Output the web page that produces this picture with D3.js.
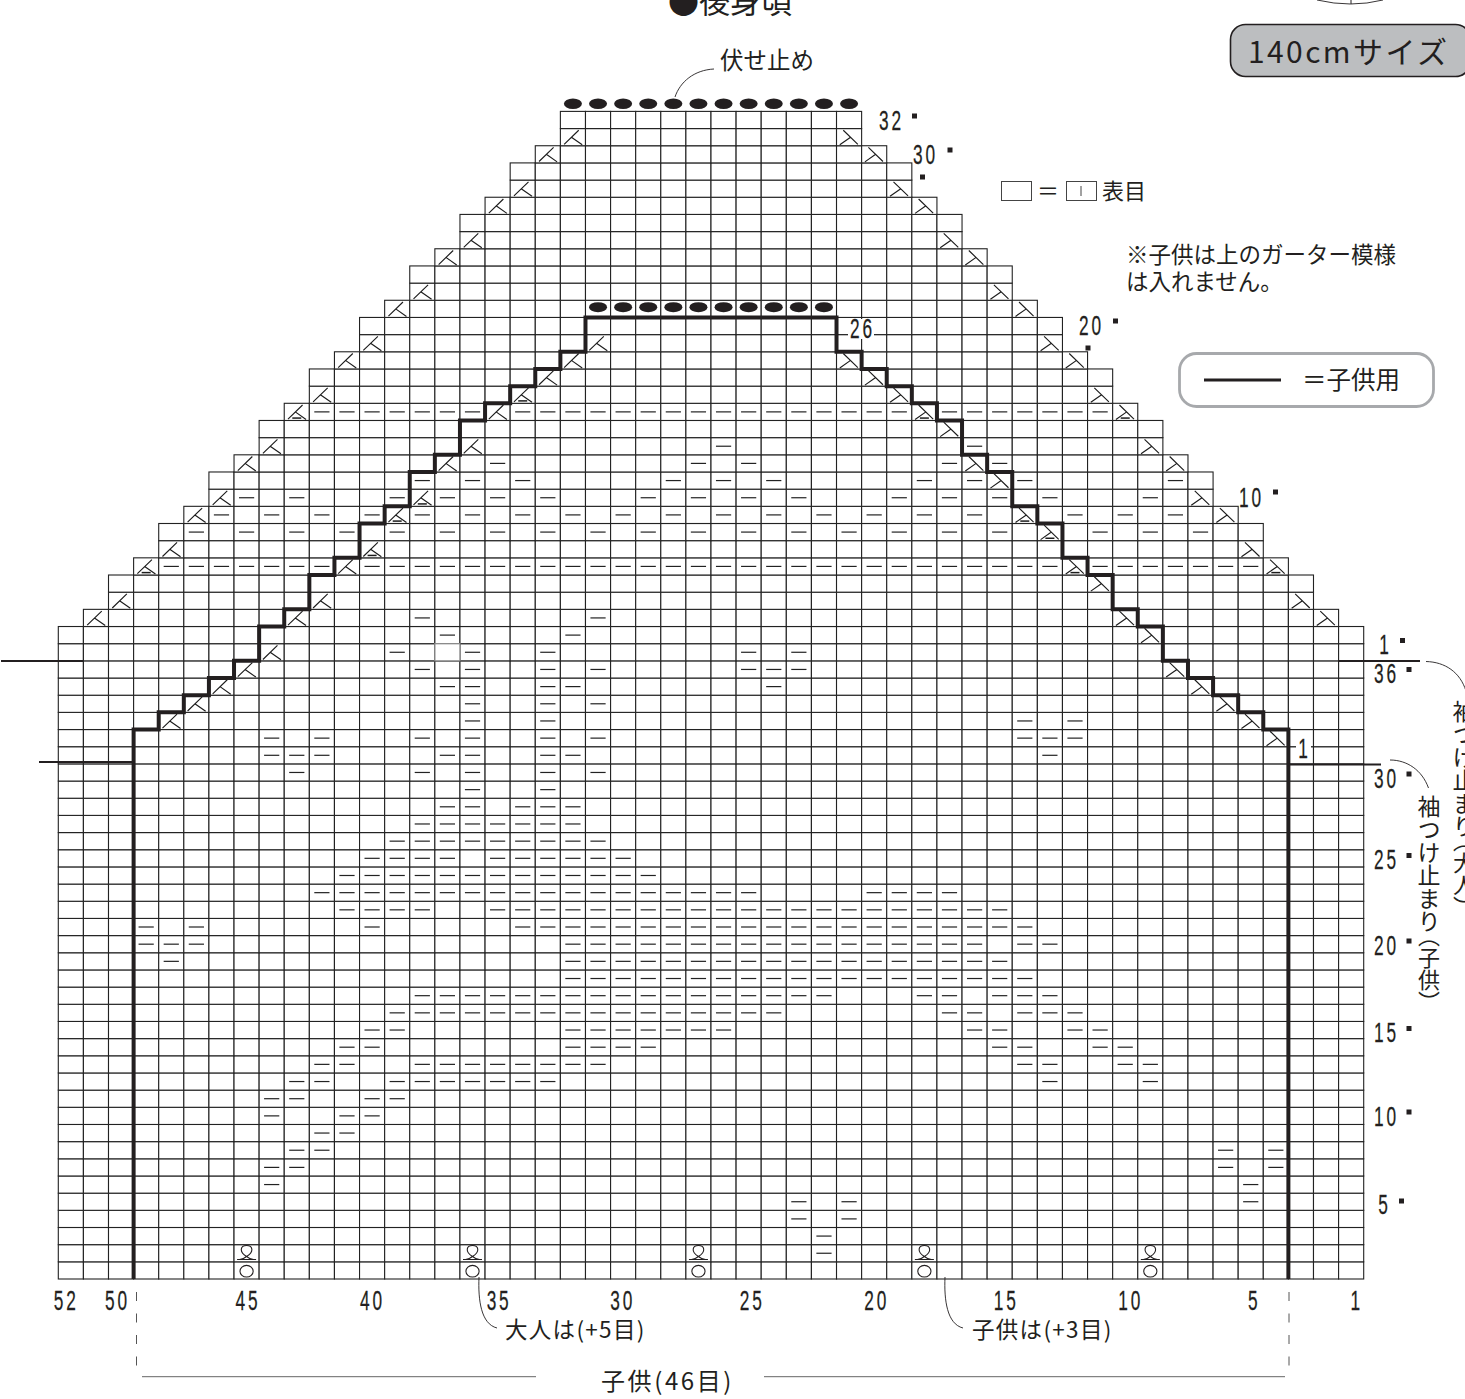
<!DOCTYPE html>
<html><head><meta charset="utf-8">
<script src="https://cdn.jsdelivr.net/npm/d3@7"></script>
<style>html,body{margin:0;padding:0;background:#fff;overflow:hidden}svg{display:block}</style>
</head><body><div id="c"></div>
<script>
// ---- chart data ----
const TOTAL_COLS = 52, TOTAL_ROWS = 68;
// first (left-most) stitch of each row, rows counted from the cast-on edge
const rowLeft = [0,0,0,0,0,0,0,0,0,0,0,0,0,0,0,0,0,0,0,0,0,0,0,0,0,0,0,0,0,0,0,0,0,0,0,0,0,0,
  1,2,2,3,4,4,5,6,6,7,8,8,9,10,10,11,12,12,13,14,14,15,16,16,17,18,18,19,20,20];
// purl marks: [row, first col, last col]
const purlRuns = [
 [1,30,30],[2,30,30],[3,29,29],[3,31,31],[4,29,29],[4,31,31],[4,47,47],[5,8,8],[5,47,47],
 [6,8,9],[6,46,46],[6,48,48],[7,9,10],[7,46,46],[7,48,48],[8,10,11],[9,8,8],[9,11,12],
 [10,8,9],[10,12,13],[11,9,10],[11,13,19],[11,39,39],[11,43,43],[12,10,11],[12,14,21],[12,38,39],[12,42,43],
 [13,11,12],[13,20,23],[13,37,38],[13,41,42],[14,12,13],[14,20,26],[14,36,37],[14,40,41],
 [15,13,28],[15,35,36],[15,38,40],[16,14,30],[16,34,35],[16,37,39],[17,20,38],[18,4,4],[18,20,37],
 [19,3,5],[19,20,36],[19,38,39],[20,3,3],[20,5,5],[20,12,12],[20,18,38],[21,11,14],[21,17,37],
 [22,10,27],[22,32,35],[23,11,23],[24,12,15],[24,17,22],[25,13,21],[26,14,20],[27,15,16],[27,18,20],
 [28,16,16],[28,19,19],[29,9,9],[29,14,14],[29,16,16],[29,19,19],[29,21,21],
 [30,8,10],[30,15,16],[30,19,20],[30,39,39],[31,8,8],[31,10,10],[31,14,14],[31,16,16],[31,19,19],[31,21,21],[31,38,40],
 [32,16,16],[32,19,19],[32,38,38],[32,40,40],[33,16,16],[33,19,19],[33,21,21],[34,15,16],[34,19,20],[34,28,28],
 [35,14,14],[35,16,16],[35,19,19],[35,21,21],[35,27,29],[36,13,13],[36,16,16],[36,19,19],[36,27,27],[36,29,29],
 [37,15,15],[37,20,20],[38,14,14],[38,21,21],
 [41,4,10],[41,12,39],[41,41,47],[50,10,16],[50,18,33],[50,35,41]
];
// rows with scattered single purl marks: [row, columns]
const purlSingles = [
 [43,[5,7,9,11,13,15,17,19,21,23,25,27,29,31,33,35,37,41,43,45]],
 [44,[6,8,10,12,14,16,18,20,22,24,26,28,30,32,34,36,40,42,44]],
 [45,[7,9,13,15,17,19,23,25,27,29,33,35,37,39,43]],
 [46,[14,16,18,24,26,28,34,36,38,44]],
 [47,[17,25,27,35,37]],
 [48,[26,36]]
];
// decreases: [col, row, has bar]
const decLeft = [[20,66],[19,65],[18,63],[17,62],[16,60],[15,59],[14,57],[13,56],[12,54],[11,53],[10,51],[9,50,1],[8,48],[7,47],[6,45],[5,44],[4,42],[3,41,1],[2,39],[1,38],
 [4,32],[5,33],[6,34],[7,35],[8,36],[9,38],[10,39],[11,41],[12,42,1],[13,44,1],[14,45,1],[15,47],[16,48],[17,50],[18,51,1],[19,52],[20,53],[21,54]];
const decRight = [[31,66],[32,65],[33,63],[34,62],[35,60],[36,59],[37,57],[38,56],[39,54],[40,53],[41,51],[42,50,1],[43,48],[44,47],[45,45],[46,44],[47,42],[48,41,1],[49,39],[50,38],
 [31,53],[32,52],[33,51],[34,50,1],[35,49],[36,47],[37,46],[38,44,1],[39,43,1],[40,41,1],[41,40],[42,38],[43,37],[44,35],[45,34],[46,33],[47,32],[48,31]];
const twistCols = [7,16,25,34,43];
const bindOffTopCols = [20,21,22,23,24,25,26,27,28,29,30,31];
const bindOffChildCols = [21,22,23,24,25,26,27,28,29,30];
// child outline: grid col boundary and grid row line of every step
const childStepCols  = [3,3,4,4,5,5,6,6,7,7,8,8,9,9,10,10,11,11,12,12,13,13,14,14,15,15,16,16,17,17,18,18,19,19,20,20,21,21];
const childStepLines = [0,32,32,33,33,34,34,35,35,36,36,38,38,39,39,41,41,42,42,44,44,45,45,47,47,48,48,50,50,51,51,52,52,53,53,54,54,56];
const colTickLabels = [52,50,45,40,35,30,25,20,15,10,5,1];

// ---- scales ----
const W = 1465, H = 1399;
const x = d3.scaleLinear().domain([0, TOTAL_COLS]).range([58.3, 1363.7]);
const y = d3.scaleLinear().domain([0, TOTAL_ROWS]).range([1279, 111.4]);
const cw = x(1)-x(0), ch = y(0)-y(1);
const INK = '#231f20';
const JP = '"Noto Sans CJK JP","Noto Sans",sans-serif';
const NUM = '"Liberation Sans",sans-serif';

const svg = d3.select('#c').append('svg').attr('width',W).attr('height',H).attr('viewBox',`0 0 ${W} ${H}`)
  .style('background','#fff');

// ---- grid ----
const cells = [];
rowLeft.forEach((l,r)=>{ for(let c=l;c<=TOTAL_COLS-1-l;c++) cells.push({c,r}); });
svg.append('g').selectAll('rect').data(cells).join('rect')
  .attr('x',d=>x(d.c)).attr('y',d=>y(d.r+1)).attr('width',cw).attr('height',ch)
  .attr('fill','#fff').attr('stroke','#222').attr('stroke-width',1.1);

// highlighted cell
svg.append('rect').attr('x',x(15)).attr('y',y(37)).attr('width',cw).attr('height',ch)
  .attr('fill','#fff').attr('stroke','#8c8c8c').attr('stroke-width',1.3);

// ---- purl marks ----
const purls = [];
purlRuns.forEach(([r,a,b])=>{ for(let c=a;c<=b;c++) purls.push({c,r}); });
purlSingles.forEach(([r,cs])=>cs.forEach(c=>purls.push({c,r})));
svg.append('g').selectAll('line').data(purls).join('line')
  .attr('x1',d=>x(d.c+.5)-7.6).attr('x2',d=>x(d.c+.5)+7.6)
  .attr('y1',d=>y(d.r+.5)).attr('y2',d=>y(d.r+.5))
  .attr('stroke','#222').attr('stroke-width',1.2);

// ---- decreases ----
function decPath(d,dir){
  const x0 = x(d[0]), y0 = y(d[1]+1);
  const px = f => dir>0 ? x0+f*cw : x0+(1-f)*cw;
  const py = f => y0+f*ch;
  return `M${px(.73)},${py(.1)}L${px(.15)},${py(.92)}M${px(.44)},${py(.5)}L${px(.87)},${py(.94)}`;
}
const gd = svg.append('g').attr('fill','none').attr('stroke','#1c1c1c').attr('stroke-width',1.15);
gd.selectAll('path.l').data(decLeft).join('path').attr('class','l').attr('d',d=>decPath(d,1));
gd.selectAll('path.r').data(decRight).join('path').attr('class','r').attr('d',d=>decPath(d,-1));
gd.selectAll('line').data(decLeft.concat(decRight).filter(d=>d[2])).join('line')
  .attr('x1',d=>x(d[0]+.5)-4.5).attr('x2',d=>x(d[0]+.5)+4.5)
  .attr('y1',d=>y(d[1]+1)+ch*.86).attr('y2',d=>y(d[1]+1)+ch*.86).attr('stroke-width',1.5);

// ---- twist stitch symbols ----
const gt = svg.append('g').attr('fill','none').attr('stroke',INK).attr('stroke-width',1.1);
gt.selectAll('ellipse').data(twistCols).join('ellipse')
  .attr('cx',c=>x(c+.5)).attr('cy',y(.5)+.8).attr('rx',6.6).attr('ry',5.8);
gt.selectAll('path').data(twistCols).join('path').attr('d',c=>{
  const cx=x(c+.5), by=y(1)-2.3;
  return `M${cx-9.5},${by}H${cx+9.5}M${cx-7},${by}Q${cx-3},${by-.5} ${cx},${by-3}C${cx-8},${by-8} ${cx-6},${by-14} ${cx},${by-14}C${cx+6},${by-14} ${cx+8},${by-8} ${cx},${by-3}Q${cx+3},${by-.5} ${cx+7},${by}`;
});

// ---- bind-off ovals ----
const ge = svg.append('g').attr('fill',INK);
ge.selectAll('ellipse.t').data(bindOffTopCols).join('ellipse').attr('class','t')
  .attr('cx',c=>x(c+.5)).attr('cy',y(TOTAL_ROWS)-7.7).attr('rx',9).attr('ry',5.2);
ge.selectAll('ellipse.c').data(bindOffChildCols).join('ellipse').attr('class','c')
  .attr('cx',c=>x(c+.5)).attr('cy',y(56.6)).attr('rx',9).attr('ry',5);

// ---- white patches behind in-grid numbers ----
svg.append('rect').attr('x',848).attr('y',319).attr('width',26).attr('height',20).attr('fill','#fff');
svg.append('rect').attr('x',1296).attr('y',736).attr('width',15).attr('height',25).attr('fill','#fff');

// ---- child outline ----
const stepPts = childStepCols.map((c,i)=>[c,childStepLines[i]]);
const stepLine = d3.line().x(d=>x(d[0])).y(d=>y(d[1]));
const stepAll = stepPts.concat(stepPts.slice().reverse().map(d=>[TOTAL_COLS-d[0],d[1]]));
svg.append('path').attr('d',stepLine(stepAll)).attr('fill','none').attr('stroke',INK)
  .attr('stroke-width',4).attr('stroke-linejoin','miter');

// extension lines
const thin = (x1,y1,x2,y2,w,col)=>svg.append('line').attr('x1',x1).attr('y1',y1).attr('x2',x2).attr('y2',y2)
   .attr('stroke',col||INK).attr('stroke-width',w);
thin(1,661,83,661,2); thin(39,762,133,762,2); thin(1338,661,1420,661,2); thin(1288,764.5,1381,764.5,2);
const curve = d=>svg.append('path').attr('d',d).attr('fill','none').attr('stroke',INK).attr('stroke-width',.9);
curve('M1426,661.5C1445,662 1460,672 1466,691');
curve('M1390,760C1407,760 1422,770 1428.5,788');
curve('M675,97C680,82 694,70 714,69');
curve('M479,1277C478,1300 481,1324 497,1328');
curve('M945,1277C944,1300 947,1324 963,1328');

// dashed guides + child width line
[136.5,1289].forEach(px=>svg.append('line').attr('x1',px).attr('x2',px).attr('y1',1292).attr('y2',1367)
  .attr('stroke','#555').attr('stroke-width',1).attr('stroke-dasharray','9 12.5'));
thin(142,1376.7,536,1376.7,1,'#666'); thin(764,1376.7,1285,1376.7,1,'#666');

// ---- numbers (condensed by horizontal scaling) ----
const numText=(t,cx,cy)=>svg.append('text').text(t)
  .attr('transform',`translate(${cx+1.5},${cy+9.7}) scale(.64,1)`)
  .attr('text-anchor','middle').attr('font-family',NUM).attr('font-size',27).attr('fill',INK)
  .attr('letter-spacing',4.5).attr('stroke',INK).attr('stroke-width',.25);
const nudge = {52:-6,50:-5,45:0,40:-1,35:0,30:-2,25:2,20:1,15:5,10:4,5:2,1:4};
colTickLabels.forEach(n=>numText(n,x(TOTAL_COLS-n+.5)+nudge[n],1300));

const sq=(cx,cy)=>svg.append('rect').attr('x',cx-2.5).attr('y',cy-2.5).attr('width',5).attr('height',5).attr('fill',INK);
[['5',1383,1204,1401.5,1201],['10',1385,1116,1409,1112],['15',1385,1032,1409,1028.5],['20',1385,945,1409,941],
 ['25',1385,859,1409,855.5],['30',1385,778,1409,774],['36',1385,673,1409,669.5],['1',1384,644,1402.5,640.5],
 ['10',1250,497,1275.5,492],['20',1090,325,1115.5,321],['30',924,154,950,150],['32',890,120,914.5,116]]
 .forEach(([t,a,b,c,d])=>{numText(t,a,b);sq(c,d);});
sq(1088,348); sq(922.5,177);
numText('26',861,328); numText('1',1303,748);

// ---- Japanese labels ----
const jp=(t,px,py,fs,extra)=>{const e=svg.append('text').text(t).attr('x',px).attr('y',py).attr('font-family',JP)
  .attr('font-size',fs).attr('fill',INK); if(extra) extra(e); return e;};
const sp=v=>e=>e.attr('letter-spacing',v);
jp('●後身頃',668,13,31);
jp('伏せ止め',720,69,23.5);
jp('※子供は上のガーター模様',1126,263,22.5);
jp('は入れません。',1126,290,22.5);
jp('＝子供用',1302,389,24.5);
jp('表目',1102,199,22);
jp('＝',1037,199,22);
jp('大人は(+5目)',505,1338,22.5,sp(1.3));
jp('子供は(+3目)',972,1338,22.5,sp(1.3));
jp('子供(46目)',601,1390,24,sp(2.6));
const vert=e=>e.style('writing-mode','vertical-rl').style('text-orientation','mixed');
jp('袖つけ止まり',1429,795,23,vert);
jp('（子供）',1429,925,22,vert);
jp('袖つけ止まり',1464,700,23,vert);
jp('（大人）',1464,830,22,vert);

// legend boxes
svg.append('rect').attr('x',1001.5).attr('y',181.5).attr('width',30).attr('height',19).attr('fill','#fff').attr('stroke','#444').attr('stroke-width',1);
svg.append('rect').attr('x',1066.5).attr('y',181.5).attr('width',30).attr('height',19).attr('fill','#fff').attr('stroke','#444').attr('stroke-width',1);
thin(1081,186,1081,196,1,'#444');

// child legend
svg.append('rect').attr('x',1179.5).attr('y',353.5).attr('width',254).attr('height',53).attr('rx',17).attr('fill','none').attr('stroke','#a7a9ac').attr('stroke-width',2.8);
thin(1204,380,1281,380,3);

// size pill
svg.append('rect').attr('x',1230.5).attr('y',24.5).attr('width',240).attr('height',52).attr('rx',15).attr('fill','#bcbec0').attr('stroke',INK).attr('stroke-width',1.6);
jp('140cmサイズ',1248,63,30,sp(2.4));

// top right fragment
curve('M1317,0Q1351,8 1383,0');
thin(1351,0,1351,4,1);
</script></body></html>
